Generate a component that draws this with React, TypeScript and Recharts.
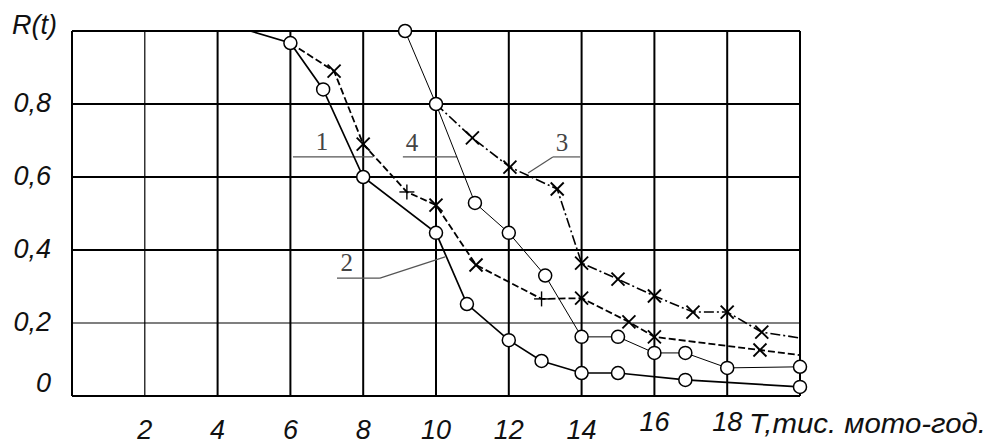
import React from "react";
import {
  LineChart,
  Line,
  XAxis,
  YAxis,
  CartesianGrid,
  ReferenceLine,
  ReferenceDot,
} from "recharts";

/* ---------- values ---------- */
// curve 1: dashed, crosses
const T1 = [6, 7.2, 8, 9.2, 10, 11.1, 12.9, 14, 15.3, 16, 18.9, 20];
const R1 = [0.967, 0.89, 0.69, 0.559, 0.523, 0.359, 0.266, 0.268, 0.203, 0.162, 0.126, 0.112];
// curve 2: solid, circles
const T2 = [4.9, 6, 6.9, 8, 10, 10.85, 12, 12.9, 14, 15, 16.85, 20];
const R2 = [1.0, 0.967, 0.84, 0.6, 0.447, 0.252, 0.153, 0.096, 0.063, 0.063, 0.044, 0.025];
// curve 3: dash-dot, crosses
const T3 = [10, 11, 12.03, 13.33, 14, 15, 16, 17.06, 18, 18.95, 20];
const R3 = [0.8, 0.707, 0.627, 0.567, 0.364, 0.32, 0.274, 0.23, 0.23, 0.175, 0.159];
// curve 4: thin solid, circles
const T4 = [9.15, 10, 11.07, 12, 13, 14, 15, 16, 16.85, 18, 20];
const R4 = [1.0, 0.8, 0.529, 0.447, 0.33, 0.162, 0.162, 0.118, 0.118, 0.077, 0.08];

const X_TICKS = [0, 2, 4, 6, 8, 10, 12, 14, 16, 18, 20];
const Y_TICKS = [0, 0.2, 0.4, 0.6, 0.8, 1];
const X_TITLE = "Т,тис. мото-год.";
const Y_TITLE = "R(t)";

// curve numbers and their leader lines (data coords)
const CURVE_NAMES = ["1", "2", "3", "4"];
const NAME_AT = [
  [6.87, 0.699],
  [7.55, 0.368],
  [13.46, 0.696],
  [9.34, 0.696],
];
const LEADERS = [
  [[6.07, 0.655], [8.27, 0.655]],
  [[7.28, 0.323], [8.46, 0.323]],
  [[8.46, 0.323], [10.25, 0.381]],
  [[12.53, 0.611], [13.21, 0.655]],
  [[13.21, 0.655], [13.96, 0.655]],
  [[9.09, 0.655], [10.58, 0.655]],
];

const toRows = (ts: number[], rs: number[]) => ts.map((t, i) => ({ t, r: rs[i] }));
const curve1 = toRows(T1, R1);
const curve2 = toRows(T2, R2);
const curve3 = toRows(T3, R3);
const curve4 = toRows(T4, R4);

const FONT = "'Liberation Sans', Arial, sans-serif";
const INK = "#111";

/* ---------- markers ---------- */
function circleDot(p: any, skip: number[]) {
  if (skip.includes(p.index) || p.cx == null) return <g key={`c${p.index}`} />;
  return (
    <circle
      key={`c${p.index}`}
      cx={p.cx}
      cy={p.cy}
      r={6.5}
      fill="#fff"
      stroke="#000"
      strokeWidth={1.5}
    />
  );
}

function crossDot(p: any, skip: number[], plus: number[]) {
  if (skip.includes(p.index) || p.cx == null) return <g key={`x${p.index}`} />;
  const { cx, cy } = p;
  const s = 6.5;
  if (plus.includes(p.index)) {
    return (
      <g key={`x${p.index}`} stroke="#000" strokeWidth={1.4}>
        <line x1={cx - s - 1} y1={cy} x2={cx + s + 1} y2={cy} />
        <line x1={cx} y1={cy - s - 1} x2={cx} y2={cy + s + 1} />
      </g>
    );
  }
  return (
    <g key={`x${p.index}`} stroke="#000" strokeWidth={1.9}>
      <line x1={cx - s} y1={cy - s} x2={cx + s} y2={cy + s} />
      <line x1={cx - s} y1={cy + s} x2={cx + s} y2={cy - s} />
    </g>
  );
}

/* ---------- axis ticks and titles ---------- */
function XTick(props: any) {
  const { x, y, payload } = props;
  const v = payload.value;
  if (v === 0 || v === 20) return null;
  const lift = v >= 16 ? 8 : 0;
  return (
    <text
      x={x}
      y={y + 43 - lift}
      textAnchor="middle"
      fontFamily={FONT}
      fontStyle="italic"
      fontSize={27}
      fill={INK}
    >
      {v}
    </text>
  );
}

function YTick(props: any) {
  const { x, y, payload } = props;
  const v = payload.value;
  if (v === 1) return null;
  const label = v === 0 ? "0" : v.toFixed(1).replace(".", ",");
  return (
    <text
      x={x - 21}
      y={(v === 0 ? y - 14 : y - 2) + 10}
      textAnchor="end"
      fontFamily={FONT}
      fontStyle="italic"
      fontSize={27}
      fill={INK}
    >
      {label}
    </text>
  );
}

function XTitle(props: any) {
  const vb = props.viewBox || { x: 72, y: 396, width: 728 };
  return (
    <text
      x={vb.x + vb.width - 51}
      y={vb.y + 37}
      fontFamily={FONT}
      fontStyle="italic"
      fontSize={27}
      fill={INK}
      textLength={237}
      lengthAdjust="spacingAndGlyphs"
    >
      {X_TITLE}
    </text>
  );
}

function YTitle(props: any) {
  const vb = props.viewBox || { x: 12, y: 31 };
  return (
    <text x={vb.x} y={vb.y + 3} fontFamily={FONT} fontStyle="italic" fontSize={27} fill={INK}>
      {Y_TITLE}
    </text>
  );
}

function gridLine(thin: number) {
  return (p: any) => (
    <line
      key={p.key ?? `g${p.index}-${p.x1}-${p.y1}`}
      x1={p.x1}
      y1={p.y1}
      x2={p.x2}
      y2={p.y2}
      stroke="#000"
      strokeWidth={p.index === thin ? 1.2 : 2}
    />
  );
}

export default function App() {
  return (
    <div style={{ position: "absolute", left: 0, top: 0, background: "#fff" }}>
      <LineChart
        width={990}
        height={445}
        margin={{ top: 31, right: 190, bottom: 0, left: 12 }}
      >
        <CartesianGrid horizontal={gridLine(1)} vertical={gridLine(1)} />
        <XAxis
          type="number"
          dataKey="t"
          domain={[0, 20]}
          ticks={X_TICKS}
          interval={0}
          height={49}
          tickSize={0}
          tickMargin={0}
          tickLine={false}
          axisLine={{ stroke: "#000", strokeWidth: 2 }}
          tick={<XTick />}
          label={<XTitle />}
        />
        <YAxis
          type="number"
          domain={[0, 1]}
          ticks={Y_TICKS}
          interval={0}
          width={60}
          tickSize={0}
          tickMargin={0}
          tickLine={false}
          axisLine={{ stroke: "#000", strokeWidth: 2 }}
          tick={<YTick />}
          label={<YTitle />}
        />
        <ReferenceLine y={1} stroke="#000" strokeWidth={2} />
        <ReferenceLine x={20} stroke="#000" strokeWidth={2} />

        {LEADERS.map((seg, i) => (
          <ReferenceLine
            key={`l${i}`}
            segment={[
              { x: seg[0][0], y: seg[0][1] },
              { x: seg[1][0], y: seg[1][1] },
            ]}
            stroke="#555"
            strokeWidth={1.2}
          />
        ))}
        {CURVE_NAMES.map((name, i) => (
          <ReferenceDot
            key={`n${i}`}
            x={NAME_AT[i][0]}
            y={NAME_AT[i][1]}
            r={0}
            fill="none"
            stroke="none"
            label={{
              value: name,
              position: "center",
              fill: "#444",
              fontSize: 25,
              fontFamily: "'Liberation Serif', 'Times New Roman', serif",
            }}
          />
        ))}

        <Line
          data={curve1}
          dataKey="r"
          stroke="#000"
          strokeWidth={1.8}
          strokeDasharray="7 3"
          dot={(p: any) => crossDot(p, [0, T1.length - 1], [3, 6])}
          isAnimationActive={false}
        />
        <Line
          data={curve3}
          dataKey="r"
          stroke="#000"
          strokeWidth={1.6}
          strokeDasharray="10 3 2 3"
          dot={(p: any) => crossDot(p, [0, T3.length - 1], [])}
          isAnimationActive={false}
        />
        <Line
          data={curve4}
          dataKey="r"
          stroke="#000"
          strokeWidth={1}
          dot={(p: any) => circleDot(p, [])}
          isAnimationActive={false}
        />
        <Line
          data={curve2}
          dataKey="r"
          stroke="#000"
          strokeWidth={1.7}
          dot={(p: any) => circleDot(p, [0])}
          isAnimationActive={false}
        />
      </LineChart>
    </div>
  );
}
